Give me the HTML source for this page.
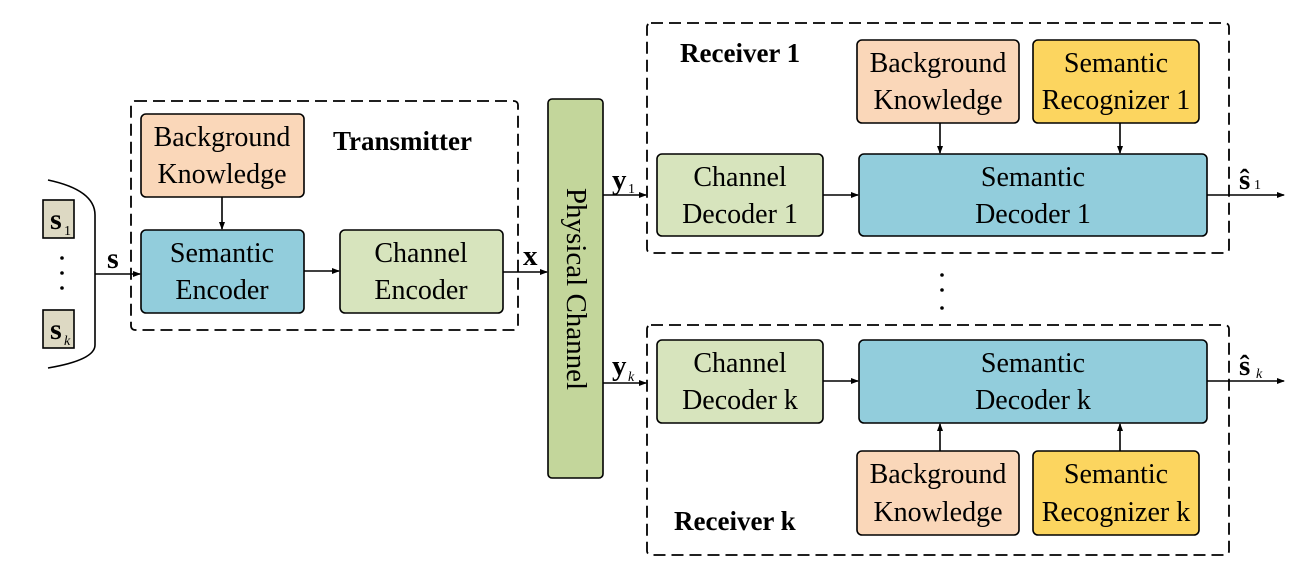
<!DOCTYPE html>
<html><head><meta charset="utf-8"><style>
html,body{margin:0;padding:0;background:#fff}
svg{display:block}
text{font-family:"Liberation Serif",serif;fill:#000}
.t{font-size:28px;text-anchor:middle}
.b{font-weight:bold;font-size:27px}
.box{stroke:#000;stroke-width:1.6}
.dash{fill:none;stroke:#000;stroke-width:1.8;stroke-dasharray:12,6}
.ln{stroke:#000;stroke-width:1.6;fill:none}
</style></head><body>
<svg width="1302" height="586" viewBox="0 0 1302 586" xmlns="http://www.w3.org/2000/svg">
<defs><marker id="a" markerWidth="8" markerHeight="8" refX="7" refY="4" orient="auto" markerUnits="userSpaceOnUse"><path d="M0,1 L8,4 L0,7 Z" fill="#000"/></marker></defs>

<path class="ln" d="M48,180 Q95,190 95,215 L95,345 Q95,360 48,368"/>
<rect x="43" y="200" width="31" height="38" fill="#ddd9c3" class="box"/>
<text x="50" y="229" style="font-size:30px;font-weight:bold">s</text><text x="64" y="235" style="font-size:14px">1</text>
<circle cx="62" cy="258" r="1.8"/><circle cx="62" cy="273" r="1.8"/><circle cx="62" cy="288" r="1.8"/>
<rect x="43" y="310" width="31" height="38" fill="#ddd9c3" class="box"/>
<text x="50" y="339" style="font-size:30px;font-weight:bold">s</text><text x="64" y="345" style="font-size:14px;font-style:italic">k</text>
<line class="ln" x1="95" y1="274" x2="140" y2="274" marker-end="url(#a)"/>
<text x="107" y="268" style="font-size:30px;font-weight:bold">s</text>

<rect class="dash" x="131" y="101" width="387" height="229" rx="4"/>
<text class="b" x="333" y="150">Transmitter</text>
<rect class="box" x="141" y="114" width="163" height="83" rx="5" fill="#fad7b9"/>
<text class="t" x="222" y="146">Background</text><text class="t" x="222" y="183">Knowledge</text>
<line class="ln" x1="222" y1="197" x2="222" y2="229" marker-end="url(#a)"/>
<rect class="box" x="141" y="230" width="163" height="83" rx="5" fill="#92cddc"/>
<text class="t" x="222" y="262">Semantic</text><text class="t" x="222" y="299">Encoder</text>
<line class="ln" x1="304" y1="271" x2="339" y2="271" marker-end="url(#a)"/>
<rect class="box" x="340" y="230" width="163" height="83" rx="5" fill="#d7e4bd"/>
<text class="t" x="421" y="262">Channel</text><text class="t" x="421" y="299">Encoder</text>
<line class="ln" x1="503" y1="272" x2="547" y2="272" marker-end="url(#a)"/>
<text x="523" y="265" style="font-size:29px;font-weight:bold">x</text>

<rect class="box" x="548" y="99" width="55" height="379" rx="4" fill="#c3d69b"/>
<text class="t" transform="translate(567,289) rotate(90)" style="font-size:29px">Physical Channel</text>

<line class="ln" x1="603" y1="195" x2="646" y2="195" marker-end="url(#a)"/>
<text x="612" y="189" style="font-size:29px;font-weight:bold">y</text><text x="628" y="193" style="font-size:14px">1</text>
<line class="ln" x1="603" y1="383" x2="646" y2="383" marker-end="url(#a)"/>
<text x="612" y="375" style="font-size:29px;font-weight:bold">y</text><text x="628" y="381" style="font-size:14px;font-style:italic">k</text>

<rect class="dash" x="647" y="23" width="582" height="230" rx="4"/>
<text class="b" x="680" y="62">Receiver 1</text>
<rect class="box" x="857" y="40" width="162" height="83" rx="5" fill="#fad7b9"/>
<text class="t" x="938" y="72">Background</text><text class="t" x="938" y="109">Knowledge</text>
<rect class="box" x="1033" y="40" width="166" height="83" rx="5" fill="#fcd55f"/>
<text class="t" x="1116" y="72">Semantic</text><text class="t" x="1116" y="109">Recognizer 1</text>
<line class="ln" x1="940" y1="123" x2="940" y2="153" marker-end="url(#a)"/>
<line class="ln" x1="1120" y1="123" x2="1120" y2="153" marker-end="url(#a)"/>
<rect class="box" x="657" y="154" width="166" height="82" rx="5" fill="#d7e4bd"/>
<text class="t" x="740" y="186">Channel</text><text class="t" x="740" y="223">Decoder 1</text>
<line class="ln" x1="823" y1="195" x2="858" y2="195" marker-end="url(#a)"/>
<rect class="box" x="859" y="154" width="348" height="82" rx="5" fill="#92cddc"/>
<text class="t" x="1033" y="186">Semantic</text><text class="t" x="1033" y="223">Decoder 1</text>
<line class="ln" x1="1207" y1="195" x2="1284" y2="195" marker-end="url(#a)"/>
<text x="1239" y="189" style="font-size:29px;font-weight:bold">ŝ</text><text x="1254" y="189" style="font-size:14px">1</text>

<circle cx="942" cy="275" r="1.8"/><circle cx="942" cy="290" r="1.8"/><circle cx="942" cy="308" r="1.8"/>

<rect class="dash" x="647" y="325" width="582" height="230" rx="4"/>
<text class="b" x="674" y="530">Receiver k</text>
<rect class="box" x="657" y="340" width="166" height="83" rx="5" fill="#d7e4bd"/>
<text class="t" x="740" y="372">Channel</text><text class="t" x="740" y="409">Decoder k</text>
<line class="ln" x1="823" y1="381" x2="858" y2="381" marker-end="url(#a)"/>
<rect class="box" x="859" y="340" width="348" height="83" rx="5" fill="#92cddc"/>
<text class="t" x="1033" y="372">Semantic</text><text class="t" x="1033" y="409">Decoder k</text>
<line class="ln" x1="1207" y1="381" x2="1284" y2="381" marker-end="url(#a)"/>
<text x="1239" y="375" style="font-size:29px;font-weight:bold">ŝ</text><text x="1256" y="378" style="font-size:14px;font-style:italic">k</text>
<line class="ln" x1="940" y1="451" x2="940" y2="424" marker-end="url(#a)"/>
<line class="ln" x1="1120" y1="451" x2="1120" y2="424" marker-end="url(#a)"/>
<rect class="box" x="857" y="451" width="162" height="84" rx="5" fill="#fad7b9"/>
<text class="t" x="938" y="483">Background</text><text class="t" x="938" y="521">Knowledge</text>
<rect class="box" x="1033" y="451" width="166" height="84" rx="5" fill="#fcd55f"/>
<text class="t" x="1116" y="483">Semantic</text><text class="t" x="1116" y="521">Recognizer k</text>
</svg>
</body></html>
